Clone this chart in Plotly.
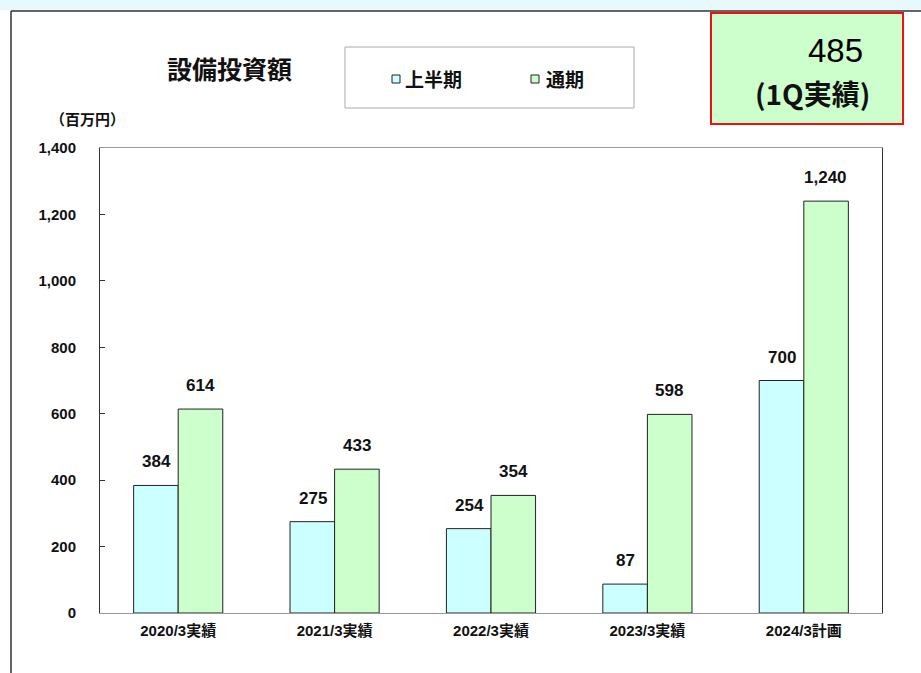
import plotly.graph_objects as go

categories = ["2020/3実績", "2021/3実績", "2022/3実績", "2023/3実績", "2024/3計画"]
first_half = [384, 275, 254, 87, 700]
full_year = [614, 433, 354, 598, 1240]
series_names = ["上半期", "通期"]
y_ticks = [0, 200, 400, 600, 800, 1000, 1200, 1400]
y_tick_text = ["0", "200", "400", "600", "800", "1,000", "1,200", "1,400"]

FONT = "Liberation Sans, Arial, Noto Sans CJK JP, sans-serif"
NARROW = "Liberation Sans Narrow, Liberation Sans, sans-serif"
JFONT = "Noto Sans CJK JP, sans-serif"

W, H = 921, 673
L, R, T, B = 100, 39, 148, 60
PW, PH = W - L - R, H - T - B
def px(x): return (x - L) / PW
def py(y): return (H - B - y) / PH

fig = go.Figure()
fig.add_trace(go.Bar(x=categories, y=first_half, name=series_names[0],
                     marker=dict(color="#ccffff", line=dict(color="#222222", width=1)),
                     showlegend=False))
fig.add_trace(go.Bar(x=categories, y=full_year, name=series_names[1],
                     marker=dict(color="#ccffcc", line=dict(color="#222222", width=1)),
                     showlegend=False))

annotations = []
for i, c in enumerate(categories):
    for vals, dx in ((first_half, -22), (full_year, 22)):
        annotations.append(dict(x=c, y=vals[i], xref="x", yref="y", text=f"<b>{vals[i]:,}</b>",
                                showarrow=False, xshift=dx, yshift=12, yanchor="bottom",
                                font=dict(family=FONT, size=17, color="#111111")))

extra = [
    dict(x=229, y=68, text="<b>設備投資額</b>", font=dict(family=JFONT, size=25, color="#111111")),
    dict(x=87, y=118, text="<b>（百万円）</b>", font=dict(family=JFONT, size=15, color="#111111")),
    dict(x=403, y=79, text="<b>" + series_names[0] + "</b>", xanchor="left",
         font=dict(family=JFONT, size=19, color="#111111")),
    dict(x=544, y=79, text="<b>" + series_names[1] + "</b>", xanchor="left",
         font=dict(family=JFONT, size=19, color="#111111")),
    dict(x=835, y=50, text="485", font=dict(family=NARROW, size=33, color="#000000")),
    dict(x=812, y=93, text="<b>(1Q実績)</b>", font=dict(family=JFONT, size=28, color="#111111")),
]
for a in extra:
    a.update(xref="paper", yref="paper", showarrow=False, x=px(a["x"]), y=py(a["y"]))
    a.setdefault("xanchor", "center")
    a["yanchor"] = "middle"
annotations += extra

def rect(x0, y0, x1, y1, **kw):
    return dict(type="rect", xref="paper", yref="paper", x0=px(x0), x1=px(x1), y0=py(y1), y1=py(y0), **kw)

def line(x0, y0, x1, y1, **kw):
    return dict(type="line", xref="paper", yref="paper", x0=px(x0), x1=px(x1), y0=py(y0), y1=py(y1), **kw)

shapes = [
    rect(0, 0, W, 10, fillcolor="#e8f9fc", line=dict(width=0), layer="below"),
    line(11, 11, W, 11, line=dict(color="#333333", width=1.5)),
    line(11, 11, 11, H, line=dict(color="#333333", width=1.5)),
    rect(345, 47, 634, 108, fillcolor="white", line=dict(color="#aaaaaa", width=1)),
    rect(392, 75, 400, 83, fillcolor="#ccffff", line=dict(color="#222222", width=1)),
    rect(531, 75, 539, 83, fillcolor="#ccffcc", line=dict(color="#222222", width=1)),
    rect(711, 13, 903, 124, fillcolor="#ccffcc", line=dict(color="#ee1111", width=2)),
]

fig.update_layout(
    width=W, height=H,
    margin=dict(l=L, r=R, t=T, b=B),
    paper_bgcolor="white", plot_bgcolor="white",
    barmode="group", bargap=0.43, bargroupgap=0,
    xaxis=dict(showline=True, linecolor="#999999", linewidth=1, mirror=True,
               ticks="", tickfont=dict(family=FONT, size=15, color="#111111"),
               tickprefix="<b>", ticksuffix="</b>", ticklabelstandoff=4),
    yaxis=dict(range=[0, 1400], tickvals=y_ticks, ticktext=["<b>" + t + "</b>" for t in y_tick_text],
               showgrid=False, zeroline=False, showline=True, linecolor="#333333", linewidth=1,
               mirror=True, ticks="inside", ticklen=5, tickcolor="#333333",
               tickfont=dict(family=FONT, size=15, color="#111111"), ticklabelstandoff=20),
    annotations=annotations, shapes=shapes,
)
fig.write_html("out.html")
